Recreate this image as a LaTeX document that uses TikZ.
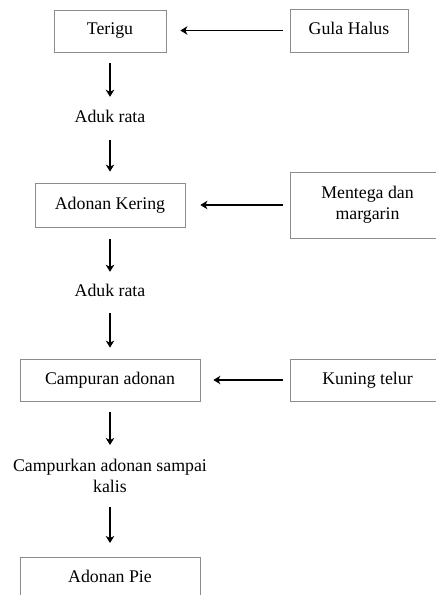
\documentclass[tikz,border=0pt]{standalone}
\usepackage{fontspec}
\setmainfont{Liberation Serif}
\usetikzlibrary{arrows.meta}
\begin{document}
\begin{tikzpicture}[x=1bp,y=-1bp,
  font=\fontsize{17.8bp}{21bp}\selectfont,
  box/.style={draw={rgb,255:red,140;green,140;blue,140}, line width=0.8bp, inner sep=0pt,
    text height=12bp, text depth=4bp, anchor=center},
  mbox/.style={draw={rgb,255:red,140;green,140;blue,140}, line width=0.8bp, inner sep=0pt, align=center},
  lbl/.style={inner sep=0pt, text height=13bp, text depth=4bp, anchor=base},
  arr/.style={-{Stealth[length=7bp,width=8.5bp,inset=2bp]}, line width=1.8bp}]
\useasboundingbox (0,0) rectangle (436,595);
\clip (0,0) rectangle (436,595);
\node[box, minimum width=112bp, minimum height=42bp] (terigu) at (110,31) {Terigu};
\node[box, minimum width=118bp, minimum height=43bp] (gula) at (349,30.5) {Gula Halus};
\node[lbl] (aduk1) at (110,123) {Aduk rata};
\node[box, minimum width=150bp, minimum height=44bp] (kering) at (110,205) {Adonan Kering};
\node[mbox, minimum width=155bp, minimum height=66bp] (mentega) at (367.5,205) {Mentega dan\\margarin};
\node[lbl] (aduk2) at (110,296) {Aduk rata};
\node[box, minimum width=180bp, minimum height=42bp] (campuran) at (110,380) {Campuran adonan};
\node[box, minimum width=155bp, minimum height=42bp] (kuning) at (367.5,380) {Kuning telur};
\node[inner sep=0pt, align=center, anchor=north] (campurkan) at (110,459) {Campurkan adonan sampai\\kalis};
\node[draw={rgb,255:red,140;green,140;blue,140}, line width=0.8bp, inner sep=0pt, minimum width=180bp,
  text height=25bp, text depth=40bp, anchor=north] (pie) at (110,557) {Adonan Pie};

\draw[arr, shorten <=7bp, shorten >=14bp] (gula.west) -- (terigu.east |- gula.west);
\draw[arr, shorten <=7bp, shorten >=15bp] (mentega.west) -- (kering.east);
\draw[arr, shorten <=7bp, shorten >=13bp] (kuning.west) -- (campuran.east);

\draw[arr, shorten <=11bp, shorten >=13bp] (terigu.south) -- (aduk1.north);
\draw[arr, shorten <=13bp, shorten >=11bp] (aduk1.south) -- (kering.north);
\draw[arr, shorten <=12bp, shorten >=11bp] (kering.south) -- (aduk2.north);
\draw[arr, shorten <=13bp, shorten >=11bp] (aduk2.south) -- (campuran.north);
\draw[arr, shorten <=11bp, shorten >=14bp] (campuran.south) -- (campurkan.north);
\draw[arr, shorten <=14bp, shorten >=14bp] (campurkan.south) -- (pie.north);
\end{tikzpicture}
\end{document}
